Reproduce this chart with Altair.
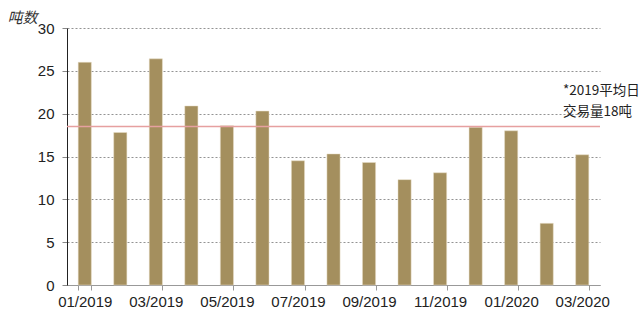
import altair as alt
import pandas as pd

months = ["01/2019", "02/2019", "03/2019", "04/2019", "05/2019", "06/2019", "07/2019",
          "08/2019", "09/2019", "10/2019", "11/2019", "12/2019", "01/2020", "02/2020", "03/2020"]
values = [26.0, 17.8, 26.4, 20.9, 18.6, 20.3, 14.5, 15.3, 14.3, 12.3, 13.1, 18.4, 18.0, 7.2, 15.2]
label_months = months[::2]
avg_value = 18.5
note_lines = ["*2019平均日", "交易量18吨"]
note_y = [22.7, 20.2]

df = pd.DataFrame({"month": months, "value": values})
FONT = "Liberation Sans"

x_enc = alt.X("month:N", sort=months,
              scale=alt.Scale(paddingInner=0.63, paddingOuter=0.315),
              axis=alt.Axis(title=None, values=label_months, labelAngle=0,
                            tickBand="extent", labelFont=FONT, labelFontSize=15,
                            labelColor="#222", domainColor="#999", tickColor="#999",
                            tickSize=5, labelPadding=4))

bars = alt.Chart(df).mark_bar(color="#A48F5E", stroke="#E8DFC8", strokeWidth=0.5).encode(
    x=x_enc,
    y=alt.Y("value:Q", scale=alt.Scale(domain=[0, 30]),
            axis=alt.Axis(values=[0, 5, 10, 15, 20, 25, 30], title="吨数", titleAngle=0,
                          titleX=-60, titleY=-3, titleBaseline="bottom",
                          titleFont="Noto Sans CJK SC",
                          titleFontStyle="italic", titleFontWeight="normal", titleFontSize=15,
                          titleColor="#333", titleAlign="left",
                          labelFont=FONT, labelFontSize=15, labelColor="#222", labelPadding=8,
                          domainColor="#222", tickColor="#888", tickSize=5,
                          grid=True, gridColor="#777", gridDash=[2, 2], gridWidth=0.8))
)

avg = alt.Chart(pd.DataFrame({"avg": [avg_value]})).mark_rule(color="#E6A0A0", strokeWidth=1.5).encode(
    y="avg:Q")

note = alt.Chart(pd.DataFrame({"t": note_lines, "y": note_y})).mark_text(
    align="left", baseline="middle", font="Noto Sans CJK SC", fontSize=13.5, color="#222"
).encode(x=alt.value(496), y="y:Q", text="t:N")

chart = alt.layer(bars, avg, note).properties(
    width=533, height=257,
    autosize=alt.AutoSizeParams(type="none"),
    padding={"left": 67, "top": 28, "right": 40, "bottom": 35},
).configure_view(stroke=None)

chart.save("out.html", embed_options={"renderer": "svg", "actions": False})
